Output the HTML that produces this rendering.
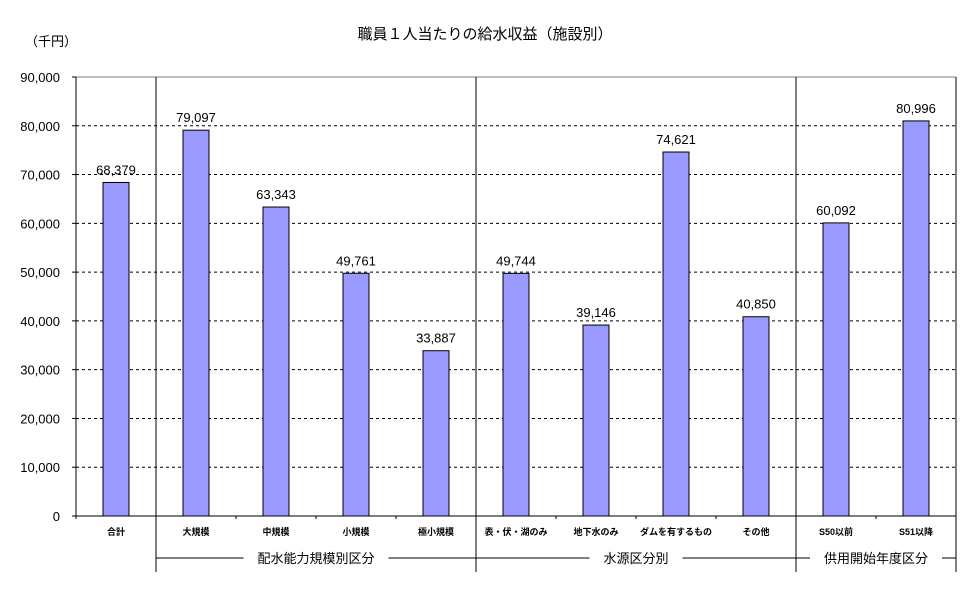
<!DOCTYPE html>
<html><head><meta charset="utf-8"><style>
body{margin:0;background:#fff;}
svg text{font-family:"Liberation Sans","Noto Sans CJK JP",sans-serif;}
</style></head><body>
<svg id="chart" width="970" height="603" xmlns="http://www.w3.org/2000/svg">
<text x="485" y="39" text-anchor="middle" font-size="15">職員１人当たりの給水収益（施設別）</text>
<text x="25" y="46" font-size="13">（千円）</text>
<g id="plot"></g>
</svg>
<script>
const categories=["合計","大規模","中規模","小規模","極小規模","表・伏・湖のみ","地下水のみ","ダムを有するもの","その他","S50以前","S51以降"];
const values=[68379,79097,63343,49761,33887,49744,39146,74621,40850,60092,80996];
const yTicks=[0,10000,20000,30000,40000,50000,60000,70000,80000,90000];
const groups=[{name:"配水能力規模別区分",start:1,end:5},{name:"水源区分別",start:5,end:9},{name:"供用開始年度区分",start:9,end:11}];
const L=76,R=956,T=77,B=516,yMax=90000;
const bw=(R-L)/categories.length;
const y=v=>B-(v/yMax)*(B-T);
const x=i=>L+bw*i;
const g=document.getElementById('plot');
const NS="http://www.w3.org/2000/svg";
function mk(t,a,txt){const e=document.createElementNS(NS,t);for(const k in a)e.setAttribute(k,a[k]);if(txt!==undefined)e.textContent=txt;g.appendChild(e);return e;}
yTicks.forEach(v=>{
 if(v>0&&v<yMax){const gl=mk('line',{x1:L,x2:R,y1:y(v),y2:y(v),stroke:'#000','stroke-dasharray':'3,3','stroke-width':1});
 
 }
 const t=mk('text',{x:L-16,y:y(v)+5,'text-anchor':'end','font-size':13},v.toLocaleString('en-US'));
 
 
 const tk=mk('line',{x1:L-4,x2:L,y1:y(v),y2:y(v),stroke:'#000'});
 
 
});
const topBorder=mk('line',{x1:L,x2:R,y1:T,y2:T,stroke:'#808080'});


const la=mk('line',{x1:L,x2:L,y1:T,y2:B,stroke:'#000'});


const xa=mk('line',{x1:L,x2:R,y1:B,y2:B,stroke:'#000'});


categories.forEach((c,i)=>{
 const cx=x(i)+bw/2,v=values[i];
 const b=mk('rect',{x:cx-13,y:y(v),width:26,height:B-y(v),fill:'#9999FF',stroke:'#000','stroke-width':1});
 
 
 const vl=mk('text',{x:cx,y:y(v)-8,'text-anchor':'middle','font-size':13},v.toLocaleString('en-US'));
 
 
 const cl=mk('text',{x:cx,y:535,'text-anchor':'middle','font-size':9,'font-weight':'bold'},c);
 
 
 const tk=mk('line',{x1:x(i),x2:x(i),y1:B,y2:B+3,stroke:'#000'});
 
 
});
const re=mk('line',{x1:R,x2:R,y1:T,y2:572,stroke:'#000'});


groups.forEach(gr=>{
 const x0=x(gr.start),x1=x(gr.end),cx=(x0+x1)/2;
 const sep=mk('line',{x1:x0,x2:x0,y1:T,y2:572,stroke:'#000'});
 
 
 const half=gr.name.length*6.5+14;
 const l1=mk('line',{x1:x0,x2:cx-half,y1:558,y2:558,stroke:'#000'});
 
 
 const l2=mk('line',{x1:cx+half,x2:x1,y1:558,y2:558,stroke:'#000'});
 
 
 const t=mk('text',{x:cx,y:563,'text-anchor':'middle','font-size':13},gr.name);
 
 
});
</script>
</body></html>
